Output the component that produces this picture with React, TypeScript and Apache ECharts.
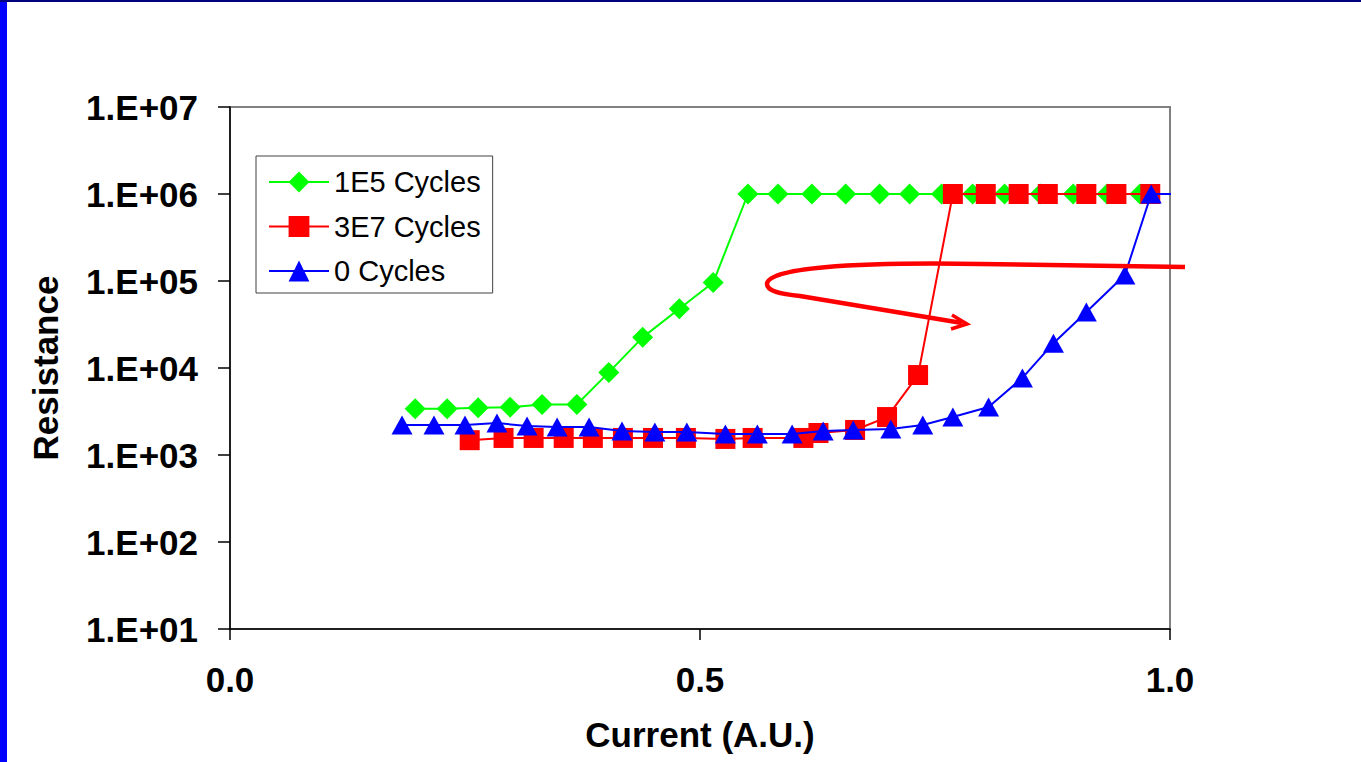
import React, { useEffect, useRef } from "react";
import * as echarts from "echarts";

// ---------- data ----------
const seriesNames = ["1E5 Cycles", "3E7 Cycles", "0 Cycles"];

const green1E5X = [0.197, 0.231, 0.264, 0.298, 0.332, 0.369, 0.403, 0.439, 0.478, 0.514, 0.551, 0.583, 0.619, 0.655, 0.691, 0.723, 0.757, 0.79, 0.824, 0.862, 0.897, 0.933, 0.968];
const green1E5Y = [3400, 3400, 3500, 3550, 3800, 3800, 8900, 22500, 48000, 96000, 1e6, 1e6, 1e6, 1e6, 1e6, 1e6, 1e6, 1e6, 1e6, 1e6, 1e6, 1e6, 1e6];

const red3E7X = [0.255, 0.291, 0.323, 0.355, 0.386, 0.418, 0.45, 0.485, 0.527, 0.556, 0.61, 0.626, 0.665, 0.699, 0.732, 0.769, 0.804, 0.839, 0.87, 0.911, 0.943, 0.979];
const red3E7Y = [1480, 1570, 1570, 1570, 1570, 1570, 1570, 1570, 1530, 1570, 1570, 1790, 1940, 2730, 8300, 1e6, 1e6, 1e6, 1e6, 1e6, 1e6, 1e6];

const blue0X = [0.183, 0.217, 0.25, 0.284, 0.316, 0.348, 0.382, 0.417, 0.452, 0.486, 0.527, 0.561, 0.598, 0.631, 0.663, 0.703, 0.737, 0.769, 0.807, 0.843, 0.876, 0.911, 0.952, 0.98];
const blue0Y = [2210, 2210, 2210, 2330, 2150, 2100, 2100, 1890, 1840, 1840, 1740, 1740, 1740, 1890, 1940, 1990, 2210, 2730, 3560, 7700, 19300, 44000, 117000, 1e6];
// the blue line runs on a little past the right edge of the plot
const blueTailX = 1.014;
const blueTailY = 1e6;

const xTickLabels = ["0.0", "0.5", "1.0"];
const yTickLabels = ["1.E+01", "1.E+02", "1.E+03", "1.E+04", "1.E+05", "1.E+06", "1.E+07"];

const xTitle = "Current (A.U.)";
const yTitle = "Resistance";

// annotation arrow path (page pixels)
const arrowPath =
  "M1185 267 L980 264 C850 262 767 268 767 284 C767 291 780 294 800 296 L962 323";

const FONT = "'Liberation Sans', Arial, Helvetica, sans-serif";

function zip(xs: number[], ys: number[]) {
  return xs.map((x, i) => [x, ys[i]]);
}

export default function App() {
  const ref = useRef<HTMLDivElement>(null);

  useEffect(() => {
    if (!ref.current) return;
    try {
      echarts.graphic.registerShape(
        "annotArrow",
        echarts.graphic.extendPath(arrowPath, {}) as any
      );
    } catch (e) {
      /* already registered */
    }
    const chart = echarts.init(ref.current, null, { renderer: "svg" });

    const blueData: any[] = zip(blue0X, blue0Y);
    blueData.push({ value: [blueTailX, blueTailY], symbol: "none" });

    chart.setOption({
      animation: false,
      backgroundColor: "#ffffff",
      grid: {
        left: 230,
        top: 107,
        right: 191,
        bottom: 133,
        show: true,
        borderColor: "#808080",
        borderWidth: 2,
        backgroundColor: "transparent",
      },
      legend: {
        orient: "vertical",
        left: 256,
        top: 156,
        itemWidth: 60,
        itemHeight: 26,
        itemGap: 14.5,
        padding: [11, 12, 7, 12],
        borderColor: "#404040",
        borderWidth: 1,
        backgroundColor: "#ffffff",
        textStyle: {
          fontFamily: FONT,
          fontSize: 29,
          color: "#000000",
          lineHeight: 30,
        },
        data: seriesNames,
      },
      xAxis: {
        type: "value",
        min: 0,
        max: 1,
        interval: 0.5,
        name: xTitle,
        nameLocation: "middle",
        nameGap: 88,
        nameTextStyle: {
          fontFamily: FONT,
          fontSize: 35,
          fontWeight: "bold",
          color: "#000000",
        },
        axisLine: { show: true, onZero: false, lineStyle: { color: "#000000", width: 1.5 } },
        axisTick: { show: true, inside: false, length: 11, lineStyle: { color: "#000000", width: 1.5 } },
        axisLabel: {
          margin: 33,
          fontFamily: FONT,
          fontSize: 35,
          fontWeight: "bold",
          color: "#000000",
          formatter: (v: number) => xTickLabels[Math.round(v / 0.5)] ?? "",
        },
        splitLine: { show: false },
      },
      yAxis: {
        type: "log",
        logBase: 10,
        min: 10,
        max: 1e7,
        name: yTitle,
        nameLocation: "middle",
        nameRotate: 90,
        nameGap: 167,
        nameTextStyle: {
          fontFamily: FONT,
          fontSize: 35,
          fontWeight: "bold",
          color: "#000000",
        },
        axisLine: { show: true, onZero: false, lineStyle: { color: "#000000", width: 1.5 } },
        axisTick: { show: true, inside: false, length: 12, lineStyle: { color: "#000000", width: 1.5 } },
        minorTick: { show: false },
        axisLabel: {
          margin: 32,
          fontFamily: FONT,
          fontSize: 35,
          fontWeight: "bold",
          color: "#000000",
          formatter: (v: number) => yTickLabels[Math.round(Math.log10(v)) - 1] ?? "",
        },
        splitLine: { show: false },
      },
      series: [
        {
          name: seriesNames[0],
          type: "line",
          data: zip(green1E5X, green1E5Y),
          symbol: "diamond",
          symbolSize: [21, 21],
          showAllSymbol: true,
          color: "#00ff00",
          lineStyle: { color: "#00ff00", width: 2 },
          itemStyle: { color: "#00ff00" },
          z: 2,
        },
        {
          name: seriesNames[1],
          type: "line",
          data: zip(red3E7X, red3E7Y),
          symbol: "rect",
          symbolSize: [20, 20],
          showAllSymbol: true,
          color: "#ff0000",
          lineStyle: { color: "#ff0000", width: 2 },
          itemStyle: { color: "#ff0000" },
          z: 3,
        },
        {
          name: seriesNames[2],
          type: "line",
          data: blueData,
          symbol: "triangle",
          symbolSize: [21, 19],
          showAllSymbol: true,
          clip: false,
          color: "#0000ff",
          lineStyle: { color: "#0000ff", width: 2 },
          itemStyle: { color: "#0000ff" },
          z: 4,
        },
      ],
      graphic: [
        {
          type: "rect",
          shape: { x: 0, y: 0, width: 7, height: 762 },
          style: { fill: "#0000ff" },
          z: 100,
        },
        {
          type: "rect",
          shape: { x: 0, y: 0, width: 1361, height: 2 },
          style: { fill: "#000080" },
          z: 100,
        },
        {
          type: "annotArrow",
          x: 0,
          y: 0,
          style: { stroke: "#ff0000", fill: "none", lineWidth: 4.5 },
          z: 100,
        },
        {
          type: "polyline",
          shape: { points: [[952, 315], [967, 324], [951, 329]] },
          style: { stroke: "#ff0000", fill: "none", lineWidth: 3.5 },
          z: 100,
        },
      ],
    });

    return () => {
      chart.dispose();
    };
  }, []);

  return (
    <div
      ref={ref}
      style={{ position: "absolute", left: 0, top: 0, width: 1361, height: 762, background: "#fff" }}
    />
  );
}
